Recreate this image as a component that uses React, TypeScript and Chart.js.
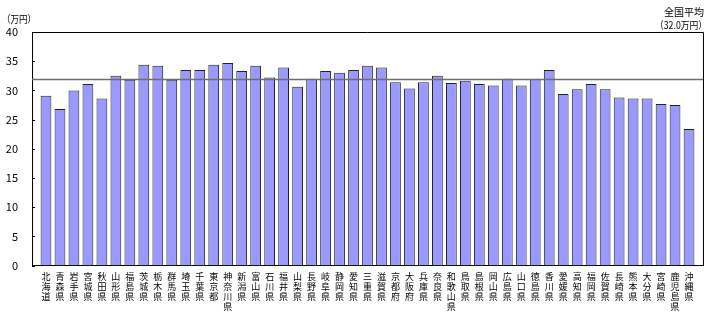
import React, { useEffect, useRef } from "react";
import { Chart, registerables } from "chart.js";

Chart.register(...registerables);

const PREFECTURES: string[] = [
  "北海道", "青森県", "岩手県", "宮城県", "秋田県", "山形県", "福島県",
  "茨城県", "栃木県", "群馬県", "埼玉県", "千葉県", "東京都", "神奈川県",
  "新潟県", "富山県", "石川県", "福井県", "山梨県", "長野県", "岐阜県",
  "静岡県", "愛知県", "三重県", "滋賀県", "京都府", "大阪府", "兵庫県",
  "奈良県", "和歌山県", "鳥取県", "島根県", "岡山県", "広島県", "山口県",
  "徳島県", "香川県", "愛媛県", "高知県", "福岡県", "佐賀県", "長崎県",
  "熊本県", "大分県", "宮崎県", "鹿児島県", "沖縄県",
];

const VALUES: number[] = [
  29.1, 26.8, 30.0, 31.1, 28.6, 32.5, 31.8,
  34.4, 34.2, 31.8, 33.5, 33.5, 34.4, 34.7,
  33.3, 34.2, 32.2, 33.9, 30.6, 32.0, 33.3,
  33.0, 33.5, 34.2, 33.9, 31.4, 30.3, 31.4,
  32.5, 31.25, 31.65, 31.1, 30.85, 32.0, 30.85,
  32.0, 33.5, 29.4, 30.2, 31.1, 30.2, 28.8,
  28.6, 28.6, 27.65, 27.5, 23.4,
];

const AVERAGE = 32.0;
const Y_TICKS: number[] = [0, 5, 10, 15, 20, 25, 30, 35, 40];
const UNIT_LABEL = "（万円）";
const AVG_LABEL_1 = "全国平均";
const AVG_LABEL_2 = "（32.0万円）";

const FONT = "'Noto Sans CJK JP', 'Noto Sans', sans-serif";

const overlayPlugin = {
  id: "overlay",
  afterDatasetsDraw(chart: any) {
    const { ctx, chartArea: a, scales } = chart;
    const y = scales.y;
    ctx.save();
    const yy = Math.round(y.getPixelForValue(AVERAGE)) + 0.5;
    ctx.strokeStyle = "#6e6e6e";
    ctx.lineWidth = 1.5;
    ctx.beginPath();
    ctx.moveTo(a.left, yy);
    ctx.lineTo(a.right, yy);
    ctx.stroke();
    ctx.strokeStyle = "#000";
    ctx.lineWidth = 1;
    ctx.beginPath();
    ctx.moveTo(a.left, Math.round(a.top) + 0.5);
    ctx.lineTo(Math.round(a.right) + 0.5, Math.round(a.top) + 0.5);
    ctx.lineTo(Math.round(a.right) + 0.5, a.bottom);
    ctx.stroke();
    ctx.beginPath();
    for (const v of Y_TICKS) {
      const ty = Math.round(y.getPixelForValue(v)) + 0.5;
      ctx.moveTo(a.left, ty);
      ctx.lineTo(a.left + 3, ty);
    }
    ctx.stroke();
    ctx.fillStyle = "#000";
    ctx.font = `10px ${FONT}`;
    ctx.textBaseline = "middle";
    ctx.textAlign = "left";
    ctx.fillText(UNIT_LABEL, 2, 19, 34);
    ctx.textAlign = "right";
    ctx.fillText(AVG_LABEL_1, 704, 12);
    ctx.fillText(AVG_LABEL_2, 707, 25, 52);
    ctx.restore();
  },
};

export default function App() {
  const ref = useRef<HTMLCanvasElement | null>(null);

  useEffect(() => {
    if (!ref.current) return;
    const labels: any[] = ["", ...PREFECTURES.map((p) => Array.from(p)), ""];
    const data: (number | null)[] = [null, ...VALUES, null];
    const chart = new Chart(ref.current, {
      type: "bar",
      data: {
        labels,
        datasets: [
          {
            data,
            backgroundColor: "#9999ff",
            borderColor: "#222",
            borderWidth: 1,
            borderSkipped: "bottom",
            barPercentage: 0.77,
            categoryPercentage: 1,
          },
        ],
      },
      options: {
        animation: false,
        responsive: false,
        maintainAspectRatio: false,
        layout: { padding: { left: 0, right: 9, top: 32, bottom: 0 } },
        plugins: {
          legend: { display: false },
          tooltip: { enabled: false },
        },
        scales: {
          x: {
            offset: false,
            grid: { display: false, drawTicks: false },
            border: { display: true, color: "#000", width: 1 },
            ticks: {
              autoSkip: false,
              maxRotation: 0,
              minRotation: 0,
              padding: 6,
              color: "#000",
              font: { family: FONT, size: 9, lineHeight: 10 / 9 },
            },
            afterFit: (s: any) => {
              s.height = 56.5;
            },
          },
          y: {
            min: 0,
            max: 40,
            grid: { display: false, drawTicks: false },
            border: { display: true, color: "#000", width: 1 },
            ticks: {
              stepSize: 5,
              padding: 14,
              color: "#000",
              font: { family: FONT, size: 11 },
            },
            afterFit: (s: any) => {
              s.width = 32;
            },
          },
        },
      },
      plugins: [overlayPlugin],
    });
    return () => chart.destroy();
  }, []);

  return (
    <div style={{ position: "fixed", left: 0, top: 0, width: 712, height: 322, background: "#fff" }}>
      <canvas ref={ref} width={712} height={322} style={{ width: 712, height: 322 }} />
    </div>
  );
}
